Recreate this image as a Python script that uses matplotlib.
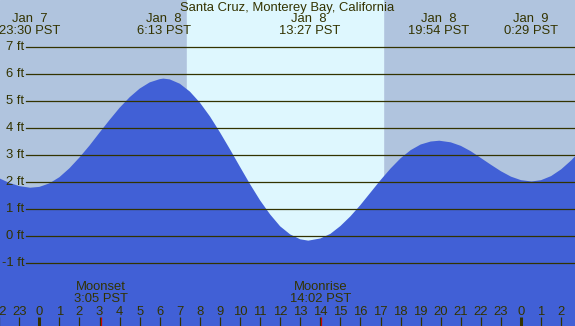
import numpy as np
import matplotlib
matplotlib.use("Agg")
import matplotlib.pyplot as plt
import matplotlib.transforms as mtransforms

plt.rcParams['font.family'] = ['Liberation Sans', 'DejaVu Sans']

# tide height samples (hours from Jan 8 0:00, feet)
tide_hours = [-2, -1.5, -1, -0.46, 0, 0.5, 1, 1.5, 2, 2.5, 3, 3.5, 4, 4.5, 5,
              5.5, 6, 6.18, 6.5, 7, 7.5, 8, 8.5, 9, 9.5, 10, 10.5, 11, 11.5,
              12, 12.5, 13, 13.40, 14, 14.5, 15, 15.5, 16, 16.5, 17, 17.5, 18,
              18.5, 19, 19.5, 19.93, 20.5, 21, 21.5, 22, 22.5, 23, 23.5, 24,
              24.53, 25, 25.5, 26, 26.5, 27]
tide_feet = [2.15, 1.98, 1.86, 1.80, 1.83, 1.96, 2.19, 2.52, 2.92, 3.36, 3.84,
             4.31, 4.76, 5.15, 5.47, 5.70, 5.82, 5.84, 5.81, 5.65, 5.36, 4.95,
             4.44, 3.85, 3.22, 2.57, 1.93, 1.33, 0.81, 0.37, 0.07, -0.11, -0.16,
             -0.08, 0.09, 0.38, 0.74, 1.16, 1.62, 2.08, 2.51, 2.89, 3.19, 3.40,
             3.51, 3.54, 3.48, 3.35, 3.15, 2.90, 2.65, 2.41, 2.21, 2.08, 2.03,
             2.08, 2.23, 2.48, 2.81, 3.20]

# high / low tide labels along the top
extreme_hours = [-0.5, 6.217, 13.45, 19.9, 24.483]
extreme_days = ["Jan  7", "Jan  8", "Jan  8", "Jan  8", "Jan  9"]
extreme_times = ["23:30 PST", "6:13 PST", "13:27 PST", "19:54 PST", "0:29 PST"]

# moon events
moon_hours = [3.083, 14.033]
moon_names = ["Moonset", "Moonrise"]
moon_times = ["3:05 PST", "14:02 PST"]

# daylight
sunrise = 7.36
sunset = 17.12

feet_levels = [-1, 0, 1, 2, 3, 4, 5, 6, 7]
tick_hours = list(range(-2, 27))

title = "Santa Cruz, Monterey Bay, California"

night_col = "#b0c4de"
day_col = "#def7fe"
water_col = "#4160d6"
ink = "#333300"
fs = 9.4

fig = plt.figure(figsize=(5.75, 3.26), dpi=100)
ax = fig.add_axes([0, 0, 1, 1])
ax.set_xlim(-1.96, 26.69)
ax.set_ylim(-3.32, 8.75)
ax.axis('off')
ax.add_patch(plt.Rectangle((0, 0), 1, 1, transform=ax.transAxes,
                           color=night_col, zorder=0))
ax.axvspan(sunrise, sunset, color=day_col, zorder=1)

ax.fill_between(tide_hours, tide_feet, -10, color=water_col, lw=0, zorder=2)

ylab = mtransforms.blended_transform_factory(ax.transAxes, ax.transData)
for ft in feet_levels:
    ax.axhline(ft, xmin=26 / 575, xmax=1, color=ink, lw=0.9, zorder=3)
    ax.text(24 / 575, ft, "%d ft" % ft, transform=ylab, ha='right',
            va='center', fontsize=fs, color=ink, zorder=4)

bx = mtransforms.blended_transform_factory(ax.transData, ax.transAxes)

ax.text(0.5, 1 - 8 / 326, title, transform=ax.transAxes, ha='center',
        va='center', fontsize=fs, color=ink, zorder=4)
for h, d, t in zip(extreme_hours, extreme_days, extreme_times):
    ax.text(h, 1 - 19.5 / 326, d, transform=bx, ha='center', va='center',
            fontsize=fs, color=ink, zorder=4)
    ax.text(h, 1 - 31.3 / 326, t, transform=bx, ha='center', va='center',
            fontsize=fs, color=ink, zorder=4)

for h, n, t in zip(moon_hours, moon_names, moon_times):
    ax.text(h, 1 - 287.3 / 326, n, transform=bx, ha='center', va='center',
            fontsize=fs, color=ink, zorder=4)
    ax.text(h, 1 - 299.3 / 326, t, transform=bx, ha='center', va='center',
            fontsize=fs, color=ink, zorder=4)
    ax.vlines(h, 0, 9 / 326, transform=bx, color='#dd0000', lw=0.9, zorder=4)

for h in tick_hours:
    ax.text(h, 1 - 311.7 / 326, str(h % 24), transform=bx, ha='center',
            va='center', fontsize=fs, color=ink, zorder=4)
    lw = 2.2 if h % 24 == 0 else 0.9
    ax.vlines(h, 0, 9 / 326, transform=bx, color=ink, lw=lw, zorder=4)

fig.savefig("out.png", dpi=100)
